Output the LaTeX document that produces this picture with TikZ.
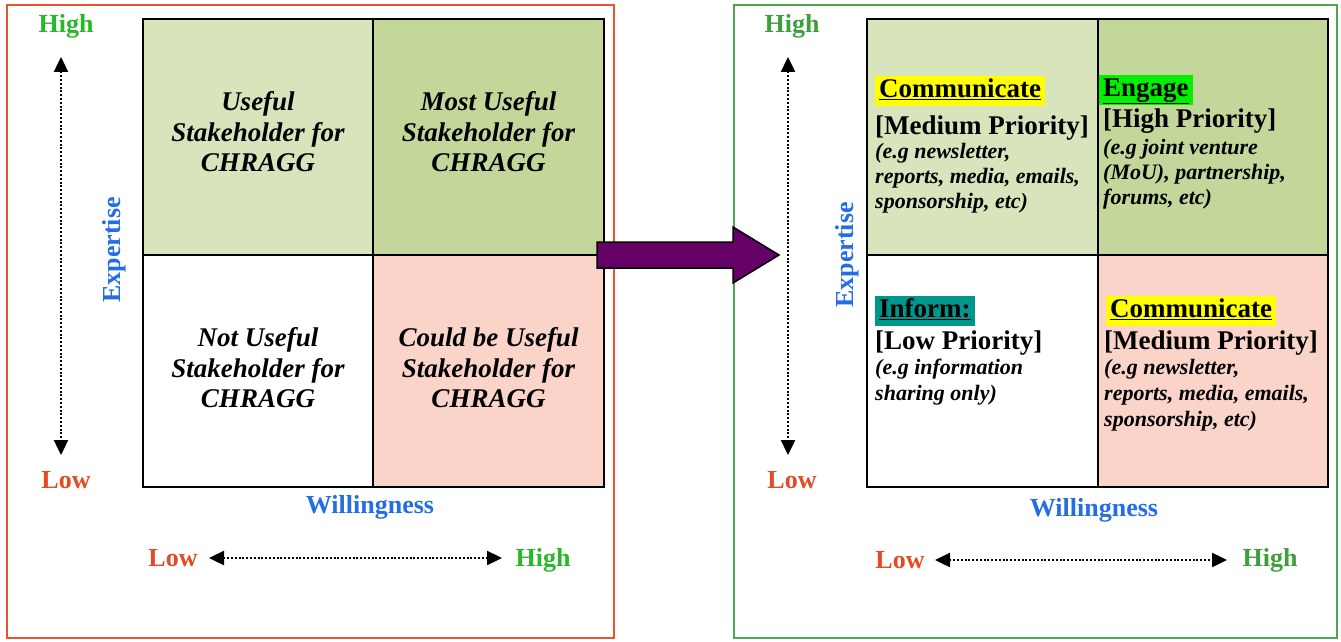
\documentclass[tikz,border=0pt]{standalone}
\usepackage{fontspec}
\setmainfont{Liberation Serif}
\usetikzlibrary{arrows.meta}
\definecolor{lgreen}{RGB}{216,228,188}
\definecolor{dgreen}{RGB}{196,215,155}
\definecolor{qpink}{RGB}{250,212,200}
\definecolor{lowred}{RGB}{226,75,35}
\definecolor{highgreen}{RGB}{40,185,40}
\definecolor{highgreentwo}{RGB}{60,160,60}
\definecolor{axisblue}{RGB}{35,110,230}
\definecolor{frred}{RGB}{232,85,45}
\definecolor{frgreen}{RGB}{80,165,80}
\definecolor{purp}{RGB}{102,0,102}
\definecolor{hlyellow}{RGB}{255,255,0}
\definecolor{hlgreen}{RGB}{0,240,0}
\definecolor{hlteal}{RGB}{0,150,140}
\begin{document}
\begin{tikzpicture}[x=1pt,y=-1pt,
  frame/.style={line width=2pt},
  cell/.style={draw=black, line width=2pt, inner sep=0pt},
  celltext/.style={align=center, inner sep=0pt, font=\fontsize{27}{30.5}\selectfont\bfseries\itshape},
  axlabel/.style={font=\fontsize{26}{28}\selectfont\bfseries, inner sep=0pt},
  hdr/.style={anchor=base west, inner xsep=4pt, inner ysep=0pt, text height=21pt, text depth=9pt, font=\fontsize{27}{30}\selectfont\bfseries},
  prio/.style={anchor=base west, inner sep=0pt, font=\fontsize{27}{30}\selectfont\bfseries},
  ex/.style={anchor=base west, inner sep=0pt, font=\fontsize{22}{25}\selectfont\bfseries\itshape},
  dotarrow/.style={line width=2.4pt, dash pattern=on 2pt off 1.8pt,
     {Triangle[length=15pt,width=14pt]}-{Triangle[length=15pt,width=14pt]}}
]
\useasboundingbox[fill=white] (0,0) rectangle (1341,642);

% frames
\draw[frame, draw=frred] (7,5) rectangle (614,638);
\draw[frame, draw=frgreen] (734,5) rectangle (1337,638);

% left grid
\node[cell, fill=lgreen, minimum width=230pt, minimum height=236pt] (ltl) at (258,137) {};
\node[cell, fill=dgreen, minimum width=231pt, minimum height=236pt] (ltr) at (488.5,137) {};
\node[cell, fill=white, minimum width=230pt, minimum height=232pt] (lbl) at (258,371) {};
\node[cell, fill=qpink, minimum width=231pt, minimum height=232pt] (lbr) at (488.5,371) {};
\node[celltext] (tltl) at (258,132) {Useful\\Stakeholder for\\CHRAGG};
\node[celltext] (tltr) at (488.5,132) {Most Useful\\Stakeholder for\\CHRAGG};
\node[celltext] (tlbl) at (258,368) {Not Useful\\Stakeholder for\\CHRAGG};
\node[celltext] (tlbr) at (488.5,368) {Could be Useful\\Stakeholder for\\CHRAGG};

% left axes
\node[axlabel, text=highgreen] (lhigh) at (66,26) {High};
\node[axlabel, text=lowred] (llow) at (66,480) {Low};
\coordinate (lvt) at (61,57);
\coordinate (lvb) at (61,455);
\draw[dotarrow] (lvt) -- (lvb);
\node[axlabel, text=axisblue, rotate=90] (lexp) at (114,250) {Expertise};
\node[axlabel, text=axisblue] (lwill) at (370,507) {Willingness};
\node[axlabel, text=lowred] (lhlow) at (173,558) {Low};
\node[axlabel, text=highgreen] (lhhigh) at (543,560) {High};
\coordinate (lhl) at (209,558);
\coordinate (lhr) at (502,558);
\draw[dotarrow] (lhl) -- (lhr);

% right grid
\node[cell, fill=lgreen, minimum width=231pt, minimum height=236pt] (rtl) at (982.5,137) {};
\node[cell, fill=dgreen, minimum width=230pt, minimum height=236pt] (rtr) at (1213,137) {};
\node[cell, fill=white, minimum width=231pt, minimum height=232pt] (rbl) at (982.5,371) {};
\node[cell, fill=qpink, minimum width=230pt, minimum height=232pt] (rbr) at (1213,371) {};

% right cell texts
\node[hdr, fill=hlyellow] (h1) at (875,97) {\underline{Communicate}};
\node[prio] (p1) at (875,134) {[Medium Priority]};
\node[ex] (e1a) at (875,158) {(e.g newsletter,};
\node[ex] (e1b) at (875,183) {reports, media, emails,};
\node[ex] (e1c) at (875,208) {sponsorship, etc)};

\node[hdr, fill=hlgreen] (h2) at (1099,96) {\underline{Engage}};
\node[prio] (p2) at (1103,127) {[High Priority]};
\node[ex] (e2a) at (1103,154) {(e.g joint venture};
\node[ex] (e2b) at (1103,179) {(MoU), partnership,};
\node[ex] (e2c) at (1103,204) {forums, etc)};

\node[hdr, fill=hlteal] (h3) at (875,317) {\underline{Inform:}};
\node[prio] (p3) at (875,349) {[Low Priority]};
\node[ex] (e3a) at (875,374) {(e.g information};
\node[ex] (e3b) at (875,400) {sharing only)};

\node[hdr, fill=hlyellow] (h4) at (1106,317) {\underline{Communicate}};
\node[prio] (p4) at (1104,349) {[Medium Priority]};
\node[ex] (e4a) at (1104,374) {(e.g newsletter,};
\node[ex] (e4b) at (1104,400) {reports, media, emails,};
\node[ex] (e4c) at (1104,426) {sponsorship, etc)};

% right axes
\node[axlabel, text=highgreentwo] (rhigh) at (792,26) {High};
\node[axlabel, text=lowred] (rlow) at (792,480) {Low};
\coordinate (rvt) at (788,57);
\coordinate (rvb) at (788,455);
\draw[dotarrow] (rvt) -- (rvb);
\node[axlabel, text=axisblue, rotate=90] (rexp) at (847,255) {Expertise};
\node[axlabel, text=axisblue] (rwill) at (1094,510) {Willingness};
\node[axlabel, text=lowred] (rhlow) at (900,560) {Low};
\node[axlabel, text=highgreentwo] (rhhigh) at (1270,560) {High};
\coordinate (rhl) at (935,560);
\coordinate (rhr) at (1227,560);
\draw[dotarrow] (rhl) -- (rhr);

% big transition arrow
\draw[fill=purp, draw=black, line width=1.5pt, line join=miter]
  (597,242) -- (733,242) -- (733,227) -- (779,255) -- (733,283) -- (733,268) -- (597,268) -- cycle;
\end{tikzpicture}
\end{document}
